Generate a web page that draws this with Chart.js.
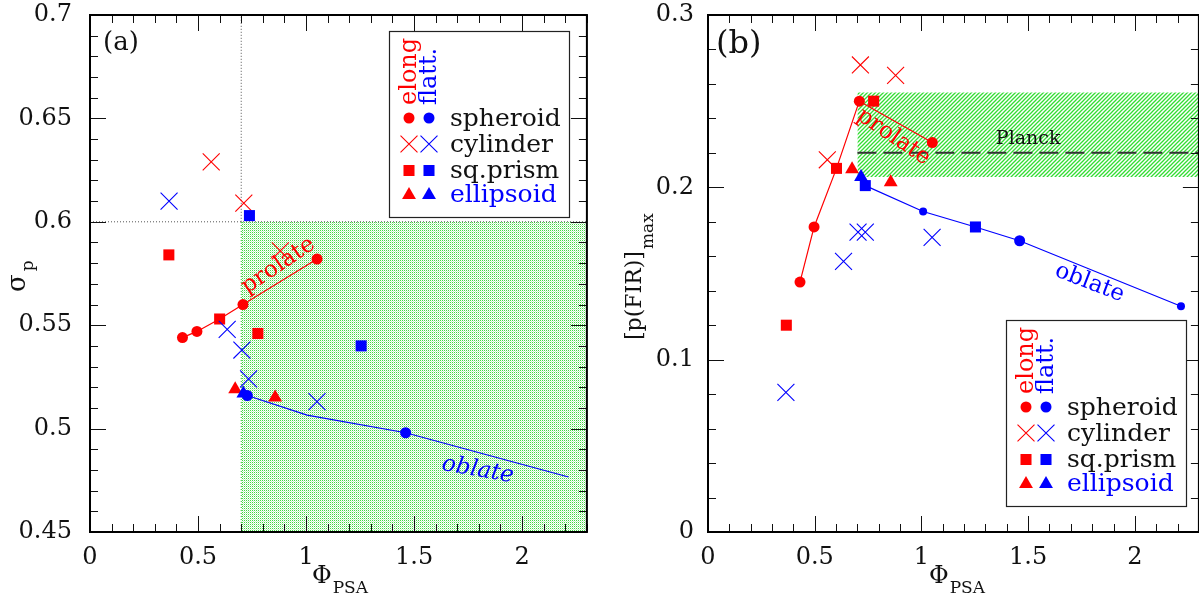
<!DOCTYPE html>
<html>
<head>
<meta charset="utf-8">
<script src="https://cdn.jsdelivr.net/npm/chart.js@4.4.0/dist/chart.umd.min.js"></script>
<style>
  html, body { margin: 0; padding: 0; background: #fff; overflow: hidden; width: 1199px; height: 595px; }
  #wrapA { position: absolute; left: 0; top: 0; }
  #wrapB { position: absolute; left: 600px; top: 0; }
</style>
</head>
<body>
<div id="wrapA"><canvas id="chartA" width="600" height="595"></canvas></div>
<div id="wrapB"><canvas id="chartB" width="612" height="595"></canvas></div>
<script>
// Tick labels
const X_TICKS = [0, 0.5, 1, 1.5, 2];
const A_Y_TICKS = [0.45, 0.5, 0.55, 0.6, 0.65, 0.7];
const B_Y_TICKS = [0, 0.1, 0.2, 0.3];
const LEGEND_NAMES = ['spheroid', 'cylinder', 'sq.prism', 'ellipsoid'];
const LEGEND_STYLES = ['circle', 'crossRot', 'rect', 'triangle'];

// Panel (a): sigma_p vs Phi_PSA  ([x, y] pairs)
const aRedSpheroid = [[0.428, 0.544], [0.495, 0.547], [0.708, 0.560], [1.051, 0.582]];
const aRedCylinder = [[0.561, 0.629], [0.712, 0.609], [0.881, 0.586]];
const aRedPrism = [[0.365, 0.584], [0.600, 0.553], [0.777, 0.546]];
const aRedEllipsoid = [[0.672, 0.519], [0.857, 0.515]];
const aBlueSpheroid = [[0.728, 0.516], [1.461, 0.498]];
const aBlueCylinder = [[0.366, 0.610], [0.635, 0.548], [0.703, 0.538], [0.734, 0.524], [1.051, 0.513]];
const aBluePrism = [[0.738, 0.603], [1.255, 0.540]];
const aBlueEllipsoid = [[0.710, 0.517]];
const aProlate = [[0.428, 0.544], [0.495, 0.547], [0.600, 0.553], [0.708, 0.560], [1.051, 0.582]];
const aOblate = [[0.728, 0.516], [1.005, 0.5065], [1.461, 0.498], [2.215, 0.4766]];
const aRegion = [[0.7, 0.6], [2.3, 0.6]];
const aGuideV = [[0.7, 0.6], [0.7, 0.7]];
const aGuideH = [[0, 0.6], [2.3, 0.6]];
const aEdge = [[0.7, 0.45], [0.7, 0.6]];

// Panel (b): [p(FIR)]_max vs Phi_PSA
const bRedSpheroid = [[0.431, 0.145], [0.497, 0.177], [0.709, 0.250], [1.051, 0.226]];
const bRedCylinder = [[0.559, 0.216], [0.714, 0.271], [0.879, 0.265]];
const bRedPrism = [[0.367, 0.120], [0.602, 0.211], [0.776, 0.250]];
const bRedEllipsoid = [[0.675, 0.2105], [0.856, 0.203]];
const bBlueSpheroid = [[1.460, 0.169]];
const bBlueSpheroidSmall = [[1.008, 0.186], [2.216, 0.131]];
const bBlueCylinder = [[0.365, 0.081], [0.635, 0.157], [0.703, 0.174], [0.737, 0.174], [1.050, 0.171]];
const bBluePrism = [[0.737, 0.201], [1.253, 0.177]];
const bBlueEllipsoid = [[0.717, 0.206]];
const bProlate = [[0.431, 0.145], [0.497, 0.177], [0.602, 0.211], [0.709, 0.250]];
const bProlateTail = [[0.709, 0.250], [1.051, 0.226]];
const bOblate = [[0.737, 0.201], [1.008, 0.186], [1.253, 0.177], [1.460, 0.169], [2.216, 0.131]];
const bPlanckBand = [[0.7, 0.255], [2.3, 0.255]];
const bPlanckLow = 0.206;
const bPlanck = [[0.7, 0.22], [2.3, 0.22]];

const RED = '#ff0000';
const BLUE = '#0000ff';
const SERIF = '"DejaVu Serif", serif';
const R = { circle: 5.5, crossRot: 12, rect: 7.8, triangle: 8 };

Chart.defaults.font.family = SERIF;
Chart.defaults.color = '#111';

function pts(a) { return a.map(p => ({ x: p[0], y: p[1] })); }

function marks(a, color, style, r, order) {
    return {
        data: pts(a), showLine: false, pointStyle: style,
        pointRadius: r, pointHoverRadius: r,
        pointBackgroundColor: color, pointBorderColor: color,
        pointBorderWidth: style === 'crossRot' ? 1.1 : 0,
        order: order
    };
}

function line(a, color, w, dash, order) {
    return {
        data: pts(a), showLine: true, borderColor: color, borderWidth: w,
        borderDash: dash, pointRadius: 0, pointHoverRadius: 0, fill: false, order: order
    };
}

// green textures
function dotPattern() {
    const c = document.createElement('canvas');
    c.width = 2; c.height = 2;
    const g = c.getContext('2d');
    g.fillStyle = '#ffffff'; g.fillRect(0, 0, 2, 2);
    g.fillStyle = '#44d844'; g.fillRect(0, 0, 1, 1);
    g.fillStyle = '#c4f3c4'; g.fillRect(1, 1, 1, 1);
    return g.createPattern(c, 'repeat');
}

function hatchPattern() {
    const c = document.createElement('canvas');
    c.width = 4; c.height = 4;
    const g = c.getContext('2d');
    g.fillStyle = '#ffffff'; g.fillRect(0, 0, 4, 4);
    g.strokeStyle = '#33dd33'; g.lineWidth = 1.3;
    g.beginPath();
    g.moveTo(0, 4); g.lineTo(4, 0);
    g.moveTo(-1, 1); g.lineTo(1, -1);
    g.moveTo(3, 5); g.lineTo(5, 3);
    g.stroke();
    return g.createPattern(c, 'repeat');
}

function scalesFor(yTicks, yMin, yMax, yWidth, yPad) {
    return {
        x: {
            type: 'linear', min: 0, max: 2.3,
            afterBuildTicks: s => { s.ticks = X_TICKS.map(v => ({ value: v })); },
            ticks: { padding: 11, color: '#111', maxRotation: 0, autoSkip: false,
                     callback: v => String(v), font: { size: 24 } },
            grid: { display: false, drawTicks: false },
            border: { display: false },
            afterFit: s => { s.height = 63; s.paddingLeft = 0; s.paddingRight = 0; }
        },
        y: {
            type: 'linear', min: yMin, max: yMax,
            afterBuildTicks: s => { s.ticks = yTicks.map(v => ({ value: v })); },
            ticks: { padding: yPad, color: '#111', autoSkip: false,
                     callback: v => String(v), font: { size: 24 } },
            grid: { display: false, drawTicks: false },
            border: { display: false },
            afterFit: s => { s.width = yWidth; s.paddingTop = 0; s.paddingBottom = 0; }
        }
    };
}

function subText(ctx, x, y, rot, main, sub, f1, f2, drop, gap) {
    ctx.save();
    ctx.translate(x, y);
    ctx.rotate(rot);
    ctx.fillStyle = '#111';
    ctx.textAlign = 'left';
    ctx.textBaseline = 'alphabetic';
    ctx.font = f1 + 'px ' + SERIF;
    ctx.fillText(main, 0, 0);
    const w = ctx.measureText(main).width;
    ctx.font = f2 + 'px ' + SERIF;
    ctx.fillText(sub, w + gap, drop);
    ctx.restore();
}

function drawLegend(ctx, L) {
    const w = 180, h = 186;
    ctx.save();
    ctx.fillStyle = '#fff';
    ctx.fillRect(L.x, L.y, w, h);
    ctx.strokeStyle = '#222';
    ctx.lineWidth = 1.2;
    ctx.strokeRect(L.x + 0.5, L.y + 0.5, w, h);

    // rotated column headers
    ctx.font = '24px ' + SERIF;
    ctx.textAlign = 'left';
    ctx.textBaseline = 'alphabetic';
    [['elong', RED, 27], ['flatt.', BLUE, 47]].forEach(([t, c, dx]) => {
        ctx.save();
        ctx.translate(L.x + dx, L.y + 74);
        ctx.rotate(-Math.PI / 2);
        ctx.fillStyle = c;
        ctx.fillText(t, 0, 0);
        ctx.restore();
    });

    const rowY = [87, 113, 139.5, 163];
    LEGEND_NAMES.forEach((name, i) => {
        const yy = L.y + rowY[i];
        const st = LEGEND_STYLES[i];
        const dy = st === 'triangle' ? 1 : 0;
        [[RED, 20], [BLUE, 40]].forEach(([c, dx]) => {
            ctx.fillStyle = c;
            ctx.strokeStyle = c;
            ctx.lineWidth = 1.1;
            Chart.helpers.drawPoint(ctx, {
                pointStyle: st, radius: R[st], rotation: 0,
                borderWidth: st === 'crossRot' ? 1.1 : 0
            }, L.x + dx, yy + dy);
        });
        ctx.font = '25px ' + SERIF;
        ctx.fillStyle = name === 'ellipsoid' ? BLUE : '#111';
        ctx.textBaseline = 'middle';
        ctx.fillText(name, L.x + 61, yy + 1);
    });
    ctx.restore();
}

// frame, inward ticks, labels, legend
const decor = {
    id: 'decor',
    afterDatasetsDraw(chart, args, o) {
        const { ctx, chartArea: ca, scales: { x, y } } = chart;
        ctx.save();
        ctx.strokeStyle = '#111';
        ctx.lineWidth = 1;
        const tick = (px, py, dx, dy) => {
            ctx.beginPath(); ctx.moveTo(px, py); ctx.lineTo(px + dx, py + dy); ctx.stroke();
        };
        for (let i = 0; ; i++) {
            const v = i * o.xMinor;
            if (v > x.max + 1e-9) break;
            const px = Math.round(x.getPixelForValue(v)) + 0.5;
            const len = i % o.xEvery === 0 ? 16 : 8;
            tick(px, ca.bottom, 0, -len);
            tick(px, ca.top, 0, len);
        }
        for (let i = 0; ; i++) {
            const v = y.min + i * o.yMinor;
            if (v > y.max + 1e-9) break;
            const py = Math.round(y.getPixelForValue(v)) + 0.5;
            const len = i % o.yEvery === 0 ? 16 : 8;
            tick(ca.left, py, len, 0);
            tick(ca.right, py, -len, 0);
        }
        ctx.lineWidth = 2;
        ctx.strokeStyle = '#000';
        ctx.strokeRect(ca.left, ca.top, ca.right - ca.left, ca.bottom - ca.top);

        // annotations in data coordinates
        o.texts.forEach(t => {
            ctx.save();
            ctx.translate(x.getPixelForValue(t.x), y.getPixelForValue(t.y));
            ctx.rotate(t.rot * Math.PI / 180);
            ctx.font = (t.italic ? 'italic ' : '') + t.size + 'px ' + SERIF;
            ctx.fillStyle = t.color;
            ctx.textAlign = 'center';
            ctx.textBaseline = 'middle';
            ctx.fillText(t.t, 0, 0);
            ctx.restore();
        });

        // panel label
        ctx.font = o.panel.size + 'px ' + SERIF;
        ctx.fillStyle = '#111';
        ctx.textAlign = 'left';
        ctx.textBaseline = 'alphabetic';
        ctx.fillText(o.panel.text, ca.left + o.panel.dx, ca.top + o.panel.dy);

        // axis titles
        subText(ctx, o.xTitle.x, o.xTitle.y, 0, 'Φ', 'PSA', 24, 17, 10, 1);
        const yt = o.yTitle;
        subText(ctx, yt.x, yt.y, -Math.PI / 2, yt.main, yt.sub, yt.f1, yt.f2, yt.drop, yt.gap);

        drawLegend(ctx, o.legend);
        ctx.restore();
    }
};

const baseOptions = (scales, decorOpts, padRight) => ({
    responsive: false,
    animation: false,
    layout: { padding: { top: 15, right: padRight, left: 0, bottom: 0 } },
    scales: scales,
    plugins: {
        legend: { display: false },
        tooltip: { enabled: false },
        decor: decorOpts
    }
});

// Panel (a)
new Chart(document.getElementById('chartA'), {
    type: 'scatter',
    data: {
        datasets: [
            marks(aBlueSpheroid, BLUE, 'circle', R.circle, 1),
            marks(aBluePrism, BLUE, 'rect', R.rect, 1),
            marks(aBlueEllipsoid, BLUE, 'triangle', R.triangle, 1),
            marks(aBlueCylinder, BLUE, 'crossRot', R.crossRot, 1),
            marks(aRedSpheroid, RED, 'circle', R.circle, 1),
            marks(aRedPrism, RED, 'rect', R.rect, 1),
            marks(aRedEllipsoid, RED, 'triangle', R.triangle, 1),
            marks(aRedCylinder, RED, 'crossRot', R.crossRot, 1),
            line(aProlate, RED, 1.2, [], 5),
            line(aOblate, BLUE, 1.2, [], 5),
            line(aGuideV, '#555', 1, [1, 2], 8),
            line(aGuideH, '#555', 1, [1, 2], 8),
            line(aEdge, '#22bb22', 1, [1, 2], 8),
            {
                data: pts(aRegion), showLine: true, borderWidth: 0, borderColor: 'rgba(0,0,0,0)',
                pointRadius: 0, pointHoverRadius: 0, fill: 'start', backgroundColor: dotPattern(), order: 10
            }
        ]
    },
    options: baseOptions(scalesFor(A_Y_TICKS, 0.45, 0.7, 90, 18), {
        xMinor: 0.1, xEvery: 5, yMinor: 0.01, yEvery: 5,
        panel: { text: '(a)', dx: 13, dy: 35, size: 26 },
        xTitle: { x: 312, y: 583 },
        yTitle: { main: 'σ', sub: 'p', x: 25, y: 292, f1: 26, f2: 17, drop: 8, gap: 3 },
        legend: { x: 389, y: 31 },
        texts: [
            { t: 'prolate', x: 0.872, y: 0.5788, rot: -34, color: RED, size: 23 },
            { t: 'oblate', x: 1.795, y: 0.4799, rot: 10, color: BLUE, size: 23, italic: true }
        ]
    }, 11),
    plugins: [decor]
});

// Panel (b)
new Chart(document.getElementById('chartB'), {
    type: 'scatter',
    data: {
        datasets: [
            marks(bBlueEllipsoid, BLUE, 'triangle', R.triangle, 1),
            marks(bBluePrism, BLUE, 'rect', R.rect, 1),
            marks(bBlueSpheroid, BLUE, 'circle', R.circle, 1),
            marks(bBlueSpheroidSmall, BLUE, 'circle', 4, 1),
            marks(bBlueCylinder, BLUE, 'crossRot', R.crossRot, 1),
            marks(bRedSpheroid, RED, 'circle', R.circle, 1),
            marks(bRedPrism, RED, 'rect', R.rect, 1),
            marks(bRedEllipsoid, RED, 'triangle', R.triangle, 1),
            marks(bRedCylinder, RED, 'crossRot', R.crossRot, 1),
            line(bProlate, RED, 1.2, [], 5),
            line(bProlateTail, RED, 1.2, [], 5),
            line(bOblate, BLUE, 1.2, [], 5),
            line(bPlanck, '#333', 2, [19, 7], 7),
            {
                data: pts(bPlanckBand), showLine: true, borderWidth: 0, borderColor: 'rgba(0,0,0,0)',
                pointRadius: 0, pointHoverRadius: 0, fill: { value: bPlanckLow },
                backgroundColor: hatchPattern(), order: 10
            }
        ]
    },
    options: baseOptions(scalesFor(B_Y_TICKS, 0, 0.3, 108, 14), {
        xMinor: 0.1, xEvery: 5, yMinor: 0.02, yEvery: 5,
        panel: { text: '(b)', dx: 8, dy: 38, size: 32 },
        xTitle: { x: 329, y: 583 },
        yTitle: { main: '[p(FIR)]', sub: 'max', x: 41, y: 340, f1: 22, f2: 17, drop: 12, gap: 2 },
        legend: { x: 406, y: 320 },
        texts: [
            { t: 'prolate', x: 0.869, y: 0.2292, rot: 34, color: RED, size: 23 },
            { t: 'oblate', x: 1.788, y: 0.1445, rot: 21, color: BLUE, size: 23 },
            { t: 'Planck', x: 1.50, y: 0.228, rot: 0, color: '#111', size: 19 }
        ]
    }, 9),
    plugins: [decor]
});
</script>
</body>
</html>
